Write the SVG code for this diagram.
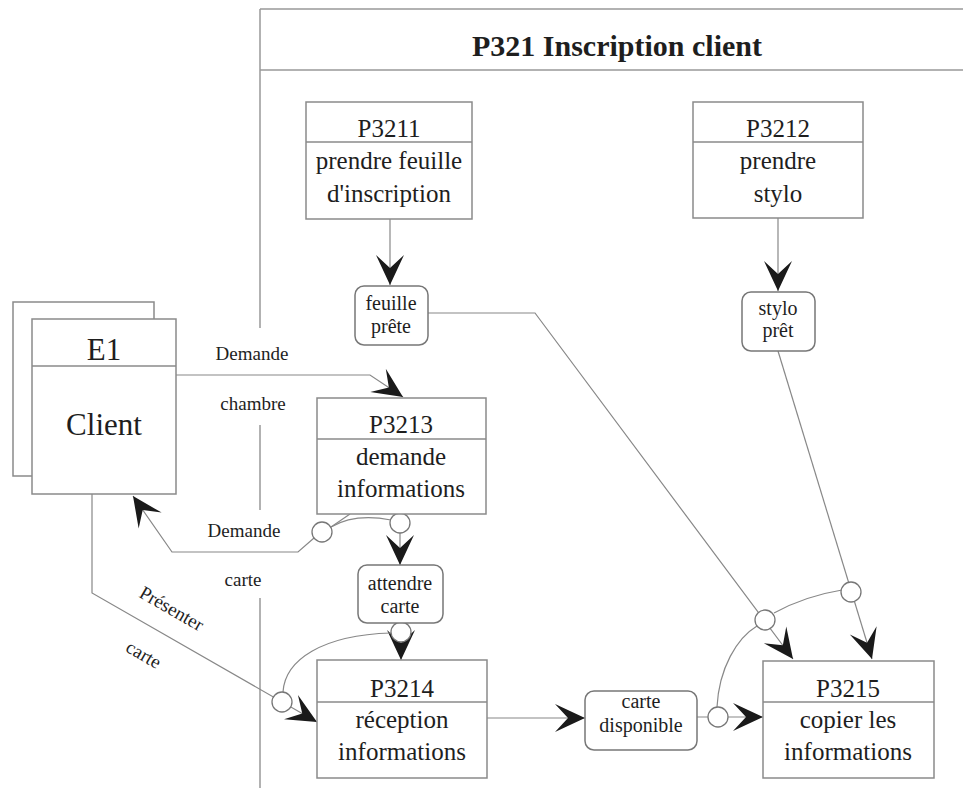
<svg xmlns="http://www.w3.org/2000/svg" width="963" height="788" viewBox="0 0 963 788">
<style>
.box{fill:#fff;stroke:#8a8a8a;stroke-width:1.5}
.rbox{fill:#fff;stroke:#777;stroke-width:1.5}
.sep{stroke:#8a8a8a;stroke-width:1.5}
.frame{fill:none;stroke:#999;stroke-width:1.5}
.con{fill:none;stroke:#888;stroke-width:1.2}
.arr{marker-end:url(#ah)}
.dot{fill:#fff;stroke:#777;stroke-width:1.3}
text{font-family:"Liberation Serif","Times New Roman",serif;fill:#1e1e1e;text-anchor:middle}
.t25{font-size:25px}
.t20{font-size:20px}
.lbl{font-size:19px}
.big{font-size:31px}
.title{font-size:30px;font-weight:bold}
</style>
<defs>
<marker id="ah" viewBox="-32 -16 34 32" refX="0" refY="0" markerWidth="34" markerHeight="32" orient="auto" markerUnits="userSpaceOnUse">
<path d="M0,0 L-30,-14 L-17,0 L-30,14 Z" fill="#1a1a1a"/>
</marker>
</defs>
<rect width="963" height="788" fill="#fff"/>

<g id="frame">
<path class="frame" d="M260,9 H963 M260,70 H963 M260,9 V328 M260,425 V510 M260,598 V788"/>
<text class="title" x="617" y="56">P321 Inscription client</text>
</g>

<g id="connectors">
<path class="con arr" d="M390,219 L390,285"/>
<path class="con arr" d="M778,218 L778,291"/>
<path class="con arr" d="M175,375 L370,375 L403,397"/>
<path class="con arr" d="M314,538 L298,552 L172,552 L133,496"/>
<path class="con" d="M331,527 Q355,513 391,520"/>
<path class="con" d="M331,527 L350,514"/>
<path class="con arr" d="M400,533 L400,565"/>
<path class="con arr" d="M401,642 L401,660"/>
<path class="con" d="M391,633 C322,635 285,660 283,692"/>
<path class="con arr" d="M92,494 L92,593 L317,722"/>
<path class="con arr" d="M487,718 L585,718"/>
<path class="con arr" d="M697,717 L763,717"/>
<path class="con" d="M717,707 C719,668 737,638 757,626"/>
<path class="con" d="M774,613 Q805,596 842,590"/>
<path class="con arr" d="M428,313 L535,313 L793,659"/>
<path class="con arr" d="M778,351 L872,659"/>
<circle class="dot" cx="322" cy="532" r="10"/>
<circle class="dot" cx="400" cy="523" r="10"/>
<circle class="dot" cx="401" cy="632" r="10"/>
<circle class="dot" cx="282" cy="702" r="10"/>
<circle class="dot" cx="718" cy="717" r="10"/>
<circle class="dot" cx="765" cy="620" r="10"/>
<circle class="dot" cx="851" cy="592" r="10"/>
<text class="lbl" x="252" y="360">Demande</text>
<text class="lbl" x="253" y="410">chambre</text>
<text class="lbl" x="244" y="537">Demande</text>
<text class="lbl" x="243" y="586">carte</text>
<text class="lbl" transform="translate(172,608) rotate(30)" x="0" y="7">Présenter</text>
<text class="lbl" transform="translate(144,654) rotate(30)" x="0" y="7">carte</text>
</g>

<g id="E1">
<rect class="box" x="13" y="302" width="141" height="174"/>
<rect class="box" x="32" y="319" width="144" height="175"/>
<line class="sep" x1="32" y1="366" x2="176" y2="366"/>
<text class="big" x="104" y="360">E1</text>
<text class="big" x="104" y="435">Client</text>
</g>

<g id="P3211">
<rect class="box" x="306" y="102" width="166" height="117"/>
<line class="sep" x1="306" y1="142" x2="472" y2="142"/>
<text class="t25" x="389" y="137">P3211</text>
<text class="t25" x="389" y="169">prendre feuille</text>
<text class="t25" x="389" y="202">d'inscription</text>
</g>

<g id="P3212">
<rect class="box" x="693" y="102" width="170" height="116"/>
<line class="sep" x1="693" y1="142" x2="863" y2="142"/>
<text class="t25" x="778" y="137">P3212</text>
<text class="t25" x="778" y="169">prendre</text>
<text class="t25" x="778" y="202">stylo</text>
</g>

<g id="feuille-prete">
<rect class="rbox" x="355" y="286" width="73" height="59" rx="9"/>
<text class="t20" x="391" y="310">feuille</text>
<text class="t20" x="391" y="333">prête</text>
</g>

<g id="stylo-pret">
<rect class="rbox" x="742" y="292" width="73" height="59" rx="9"/>
<text class="t20" x="778" y="315">stylo</text>
<text class="t20" x="778" y="337">prêt</text>
</g>

<g id="P3213">
<rect class="box" x="317" y="398" width="169" height="116"/>
<line class="sep" x1="317" y1="439" x2="486" y2="439"/>
<text class="t25" x="401" y="433">P3213</text>
<text class="t25" x="401" y="465">demande</text>
<text class="t25" x="401" y="497">informations</text>
</g>

<g id="attendre-carte">
<rect class="rbox" x="358" y="565" width="85" height="58" rx="9"/>
<text class="t20" x="400" y="590">attendre</text>
<text class="t20" x="400" y="613">carte</text>
</g>

<g id="P3214">
<rect class="box" x="317" y="660" width="170" height="118"/>
<line class="sep" x1="317" y1="702" x2="487" y2="702"/>
<text class="t25" x="402" y="697">P3214</text>
<text class="t25" x="402" y="728">réception</text>
<text class="t25" x="402" y="760">informations</text>
</g>

<g id="carte-disponible">
<rect class="rbox" x="585" y="691" width="112" height="59" rx="9"/>
<text class="t20" x="641" y="708">carte</text>
<text class="t20" x="641" y="732">disponible</text>
</g>

<g id="P3215">
<rect class="box" x="763" y="661" width="171" height="117"/>
<line class="sep" x1="763" y1="702" x2="934" y2="702"/>
<text class="t25" x="848" y="697">P3215</text>
<text class="t25" x="848" y="728">copier les</text>
<text class="t25" x="848" y="760">informations</text>
</g>
</svg>
